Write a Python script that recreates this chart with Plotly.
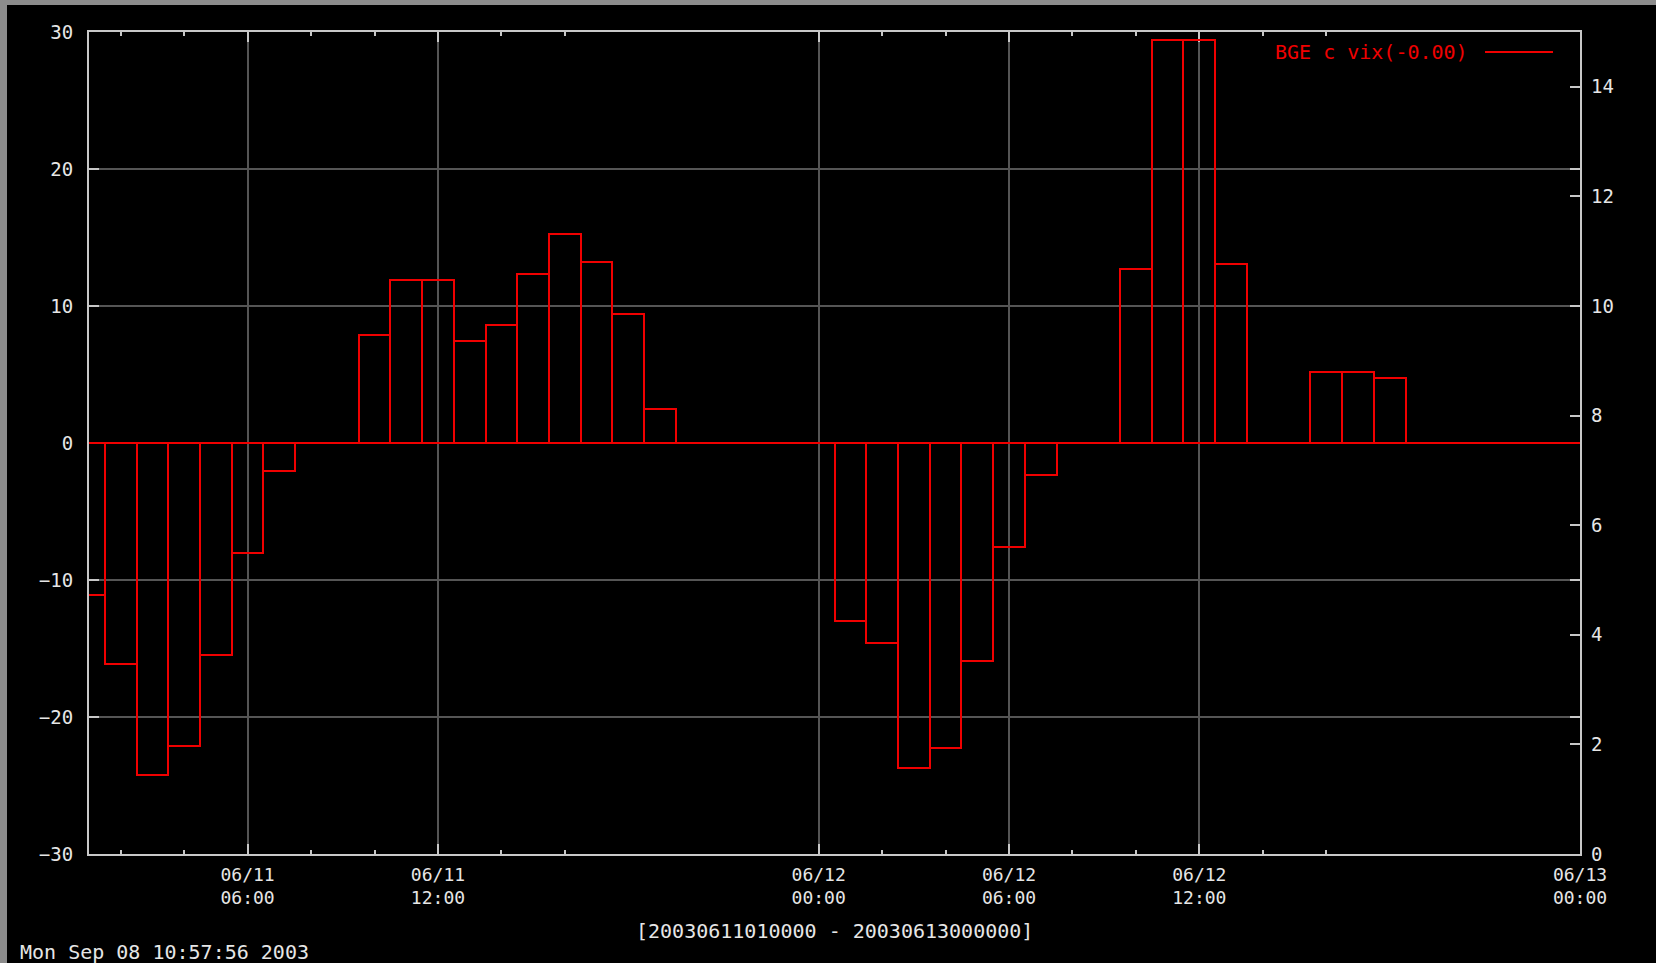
import plotly.graph_objects as go

# ---- data (hourly bins, centred on the hour) ----
times = [
    "2003-06-11 01:00", "2003-06-11 02:00", "2003-06-11 03:00", "2003-06-11 04:00",
    "2003-06-11 05:00", "2003-06-11 06:00", "2003-06-11 07:00",
    "2003-06-11 10:00", "2003-06-11 11:00", "2003-06-11 12:00", "2003-06-11 13:00",
    "2003-06-11 14:00", "2003-06-11 15:00", "2003-06-11 16:00", "2003-06-11 17:00",
    "2003-06-11 18:00", "2003-06-11 19:00",
    "2003-06-12 01:00", "2003-06-12 02:00", "2003-06-12 03:00", "2003-06-12 04:00",
    "2003-06-12 05:00", "2003-06-12 06:00", "2003-06-12 07:00",
    "2003-06-12 10:00", "2003-06-12 11:00", "2003-06-12 12:00", "2003-06-12 13:00",
    "2003-06-12 16:00", "2003-06-12 17:00", "2003-06-12 18:00",
]
values = [
    -11.1, -16.15, -24.2, -22.1,
    -15.45, -8.0, -2.05,
    7.85, 11.93, 11.93, 7.42,
    8.58, 12.36, 15.27, 13.24,
    9.45, 2.47,
    -13.0, -14.57, -23.73, -22.28,
    -15.88, -7.59, -2.35,
    12.68, 29.38, 29.38, 13.07,
    5.17, 5.17, 4.73,
]

series_name = "BGE c vix(-0.00)"
x_range = ["2003-06-11 01:00", "2003-06-13 00:00"]
baseline = [0, 0]
major_ticks = ["2003-06-11 06:00", "2003-06-11 12:00", "2003-06-12 00:00",
               "2003-06-12 06:00", "2003-06-12 12:00", "2003-06-13 00:00"]
major_labels = ["06/11<br>06:00", "06/11<br>12:00", "06/12<br>00:00",
                "06/12<br>06:00", "06/12<br>12:00", "06/13<br>00:00"]
minor_ticks = ["2003-06-11 02:00", "2003-06-11 04:00", "2003-06-11 08:00",
               "2003-06-11 10:00", "2003-06-11 14:00", "2003-06-11 16:00",
               "2003-06-12 02:00", "2003-06-12 04:00", "2003-06-12 08:00",
               "2003-06-12 10:00", "2003-06-12 14:00", "2003-06-12 16:00"]
left_ticks = [-30, -20, -10, 0, 10, 20, 30]
right_ticks = [0, 2, 4, 6, 8, 10, 12, 14]
range_label = "[20030611010000 - 20030613000000]"
stamp_label = "Mon Sep 08 10:57:56 2003"

RED = "#f00000"
AXC = "#c8c8c8"
GRID = "#555555"
TXT = "#e6e6e6"
FONT = "DejaVu Sans Mono"

fig = go.Figure()
fig.add_trace(go.Bar(
    x=times, y=values, width=3600000,
    marker=dict(color="rgba(0,0,0,0)", line=dict(color=RED, width=2)),
    showlegend=False, hoverinfo="x+y",
))
# histogram baseline across the full time range
fig.add_trace(go.Scatter(x=x_range, y=baseline, mode="lines",
                         line=dict(color=RED, width=2), showlegend=False,
                         hoverinfo="skip"))
# invisible trace so the right-hand axis is drawn
fig.add_trace(go.Scatter(x=[x_range[0]], y=[0], yaxis="y2", mode="markers",
                         marker=dict(opacity=0), showlegend=False, hoverinfo="skip"))

W, H = 1656, 963
L, R, T, B = 89, 76, 32, 109
pw, ph = W - L - R, H - T - B

def px(x):
    return (x - L) / pw

def py(y):
    return (H - B - y) / ph

fig.update_layout(
    width=W, height=H,
    margin=dict(l=L, r=R, t=T, b=B),
    paper_bgcolor="black", plot_bgcolor="black",
    font=dict(family=FONT, size=18, color=TXT),
    xaxis=dict(
        type="date", range=x_range,
        tickmode="array", tickvals=major_ticks, ticktext=major_labels,
        ticks="inside", ticklen=10, tickwidth=2, tickcolor=AXC,
        showline=True, linecolor=AXC, linewidth=2, mirror="ticks",
        showgrid=True, gridcolor=GRID, gridwidth=2,
        tickfont=dict(family=FONT, size=18, color=TXT),
        ticklabelstandoff=3,
        minor=dict(tickmode="array", tickvals=minor_ticks, ticks="inside",
                   ticklen=4, tickwidth=2, tickcolor=AXC, showgrid=False),
        zeroline=False, layer="below traces",
    ),
    yaxis=dict(
        range=[-30, 30], tickmode="array", tickvals=left_ticks,
        ticks="inside", ticklen=10, tickwidth=2, tickcolor=AXC,
        showline=True, linecolor=AXC, linewidth=2, mirror="ticks",
        showgrid=True, gridcolor=GRID, gridwidth=2,
        zeroline=False, layer="below traces",
        tickfont=dict(family=FONT, size=19, color=TXT),
        ticklabelstandoff=10,
    ),
    yaxis2=dict(
        range=[0, 15], overlaying="y", side="right",
        tickmode="array", tickvals=right_ticks,
        ticks="inside", ticklen=10, tickwidth=2, tickcolor=AXC,
        showline=False, showgrid=False, zeroline=False,
        tickfont=dict(family=FONT, size=19, color=TXT),
        ticklabelstandoff=10,
    ),
    shapes=[
        # grey window frame (top and left)
        dict(type="rect", xref="paper", yref="paper", x0=px(0), x1=px(W),
             y0=py(5), y1=py(0), fillcolor="#8c8c8c", line=dict(width=0), layer="below"),
        dict(type="rect", xref="paper", yref="paper", x0=px(0), x1=px(7),
             y0=py(H), y1=py(0), fillcolor="#8c8c8c", line=dict(width=0), layer="below"),
        # legend line sample
        dict(type="line", xref="paper", yref="paper", x0=px(1485), x1=px(1553),
             y0=py(52), y1=py(52), line=dict(color=RED, width=2)),
    ],
    annotations=[
        dict(text=series_name, xref="paper", yref="paper", x=px(1470), y=py(52),
             xanchor="right", yanchor="middle", showarrow=False,
             font=dict(family=FONT, size=20, color=RED)),
        dict(text=range_label, xref="paper", yref="paper", x=px(834), y=py(931),
             xanchor="center", yanchor="middle", showarrow=False,
             font=dict(family=FONT, size=20, color=TXT)),
        dict(text=stamp_label, xref="paper", yref="paper", x=px(18), y=py(952),
             xanchor="left", yanchor="middle", showarrow=False,
             font=dict(family=FONT, size=20, color=TXT)),
    ],
    bargap=0,
)

fig.write_html(
    "out.html",
    config={"displayModeBar": False},
    post_script="document.body.style.margin='0';document.body.style.background='black';"
                "document.documentElement.style.overflow='hidden';",
)
